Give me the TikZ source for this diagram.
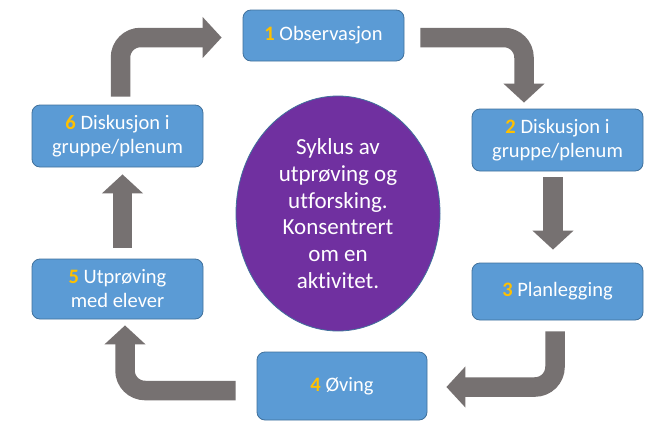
\documentclass[tikz,border=0pt]{standalone}
\usepackage{fontspec}
\setmainfont{Carlito}[Ligatures={NoCommon}]
\usetikzlibrary{shapes,arrows.meta,positioning}
\definecolor{boxblue}{HTML}{5B9BD5}
\definecolor{boxline}{HTML}{41719C}
\definecolor{numgold}{HTML}{FFC000}
\definecolor{cyclepurple}{HTML}{7030A0}
\definecolor{arrowgrey}{HTML}{767171}
\newcommand{\stepno}[1]{{\bfseries\color{numgold}#1}}

\begin{document}
\begin{tikzpicture}[x=1pt,y=-1pt,
	stepbox/.style={draw=boxline,fill=boxblue,line width=0.8pt,rounded corners=8pt,minimum width=171pt,text=white,align=center,font=\fontsize{20.5}{24}\selectfont},
	centre/.style={ellipse,draw=boxline,fill=cyclepurple,line width=0.8pt,minimum width=204pt,minimum height=235pt,inner sep=0pt,text=white,align=center,font=\fontsize{23}{26.7}\selectfont},
	flow/.style={draw=arrowgrey,line width=19.5pt,rounded corners=20pt,-{Triangle[length=19pt,width=40pt]}}]
			\fill[white] (0,0) rectangle (656,434);

			\node[stepbox,minimum width=161pt,minimum height=51pt] (S1) at (323.5,35.5) {\stepno{1} Observasjon};
			\node[stepbox,minimum height=62pt] (S2) at (557.5,140) {\stepno{2} Diskusjon i\\gruppe/plenum};
			\node[stepbox,minimum height=57pt] (S3) at (557.5,291.5) {\stepno{3} Planlegging};
			\node[stepbox,minimum width=170pt,minimum height=68pt] (S4) at (342,386) {\stepno{4} Øving};
			\node[stepbox,minimum height=60pt] (S5) at (117.5,289) {\stepno{5} Utprøving\\med elever};
			\node[stepbox,minimum height=62pt] (S6) at (117.5,136) {\stepno{6} Diskusjon i\\gruppe/plenum};
			\node[centre] (C) at (338,213.5) {Syklus av\\utprøving og\\utforsking.\\Konsentrert\\om en\\aktivitet.};

			\draw[flow] ([xshift=16pt,yshift=-2pt]S1.east) -| ([xshift=-33.5pt,yshift=6pt]S2.north);
			\draw[flow] ([xshift=-4.5pt,yshift=-6pt]S2.south) -- ([xshift=-4.5pt,yshift=13pt]S3.north);
			\draw[flow] ([xshift=-2.5pt,yshift=-11pt]S3.south) |- ([xshift=19pt,yshift=-1pt]S4.east);
			\draw[flow] ([xshift=-21pt,yshift=-4.5pt]S4.west) -| ([xshift=7.5pt,yshift=-6pt]S5.south);
			\draw[flow] ([xshift=5pt,yshift=11pt]S5.north) -- ([xshift=5pt,yshift=-7pt]S6.south);
			\draw[flow] ([xshift=3pt,yshift=8pt]S6.north) |- ([xshift=-21pt,yshift=-2pt]S1.west);
		\end{tikzpicture}
\end{document}
